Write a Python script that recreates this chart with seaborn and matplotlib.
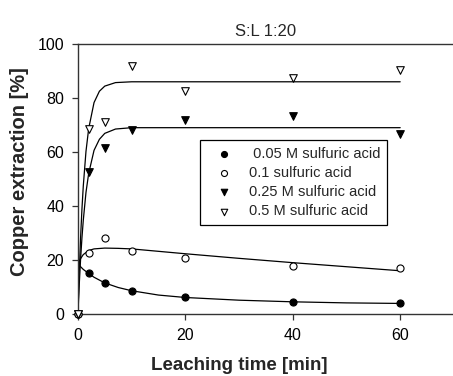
import numpy as np
import matplotlib
matplotlib.use("Agg")
import matplotlib.pyplot as plt
import seaborn as sns

# measured points (time in min, copper extraction in %)
time = [0, 2, 5, 10, 20, 40, 60]
m005 = [0, 15.2, 11.5, 8.4, 6.2, 4.6, 4.2]
m01 = [0, 22.7, 28.1, 23.2, 20.9, 17.8, 17.2]
m025 = [0, 52.5, 61.6, 68.1, 71.9, 73.5, 66.5]
m05 = [0, 68.4, 71.0, 91.9, 82.7, 87.3, 90.4]

# fitted curves, values
fit_t_low = [0, 0.5, 1, 2, 3, 5, 7.5, 10, 15, 20, 30, 40, 50, 60]
fit005 = [18.5, 17.5, 16.5, 15.0, 13.6, 11.5, 9.8, 8.6, 7.0, 6.1, 5.1, 4.5, 4.1, 3.9]
fit01 = [18.5, 20.5, 22.0, 23.5, 24.1, 24.4, 24.3, 24.1, 23.2, 22.3, 20.6, 19.0, 17.5, 16.0]
fit_t_high = [0, 0.25, 0.5, 0.75, 1, 1.5, 2, 3, 4, 5, 7, 10, 60]
fit025 = [0, 11.0, 20.4, 28.2, 34.7, 45.0, 52.0, 60.6, 64.7, 66.9, 68.5, 69.0, 69.0]
fit05 = [0, 15.5, 28.4, 38.9, 47.4, 60.2, 68.6, 78.3, 82.5, 84.4, 85.7, 86.0, 86.0]

labels = [" 0.05 M sulfuric acid", "0.1 sulfuric acid",
          "0.25 M sulfuric acid", "0.5 M sulfuric acid"]

sns.set_style("ticks")
plt.rcParams['font.family'] = ['Liberation Sans', 'DejaVu Sans']

fig = plt.figure(figsize=(4.53, 3.76), dpi=100)
ax = fig.add_axes([0.172, 0.165, 0.830, 0.718])

# fitted lines
for t, y in [(fit_t_low, fit005), (fit_t_low, fit01),
             (fit_t_high, fit025), (fit_t_high, fit05)]:
    sns.lineplot(x=t, y=y, ax=ax, color="black", linewidth=0.9, zorder=2)

# data points
kw = dict(ax=ax, edgecolor="black", linewidth=0.8, zorder=3, clip_on=False)
sns.scatterplot(x=time, y=m005, marker="o", s=26, color="black", label=labels[0], **kw)
sns.scatterplot(x=time, y=m01, marker="o", s=26, color="white", label=labels[1], **kw)
sns.scatterplot(x=time, y=m025, marker="v", s=30, color="black", label=labels[2], **kw)
sns.scatterplot(x=time, y=m05, marker="v", s=30, color="white", label=labels[3], **kw)

ax.set_xlim(0, 70)
ax.set_ylim(0, 100)
ax.set_xticks([0, 20, 40, 60])
ax.set_yticks([0, 20, 40, 60, 80, 100])
ax.tick_params(labelsize=11.5, length=4, width=0.9, direction="out", pad=6,
               colors="#333333", labelcolor="black")
ax.spines["right"].set_visible(False)
for s in ["left", "bottom", "top"]:
    ax.spines[s].set_linewidth(1.0)
    ax.spines[s].set_color("#333333")

ax.set_xlabel("Leaching time [min]", fontsize=13.5, fontweight="bold")
ax.set_ylabel("Copper extraction [%]", fontsize=14.5, fontweight="bold")
ax.xaxis.set_label_coords(0.428, -0.158)
ax.yaxis.set_label_coords(-0.13, 0.528)
ax.set_title("S:L 1:20", fontsize=12, pad=6)

leg = ax.legend(loc="upper left", bbox_to_anchor=(0.324, 0.644), fontsize=10.5,
                frameon=True, fancybox=False, edgecolor="black", framealpha=1,
                handletextpad=0.5, borderpad=0.45, labelspacing=0.36,
                handlelength=2.4, borderaxespad=0, markerscale=0.85)
leg.get_frame().set_linewidth(0.9)

fig.savefig("out.png", dpi=100)
